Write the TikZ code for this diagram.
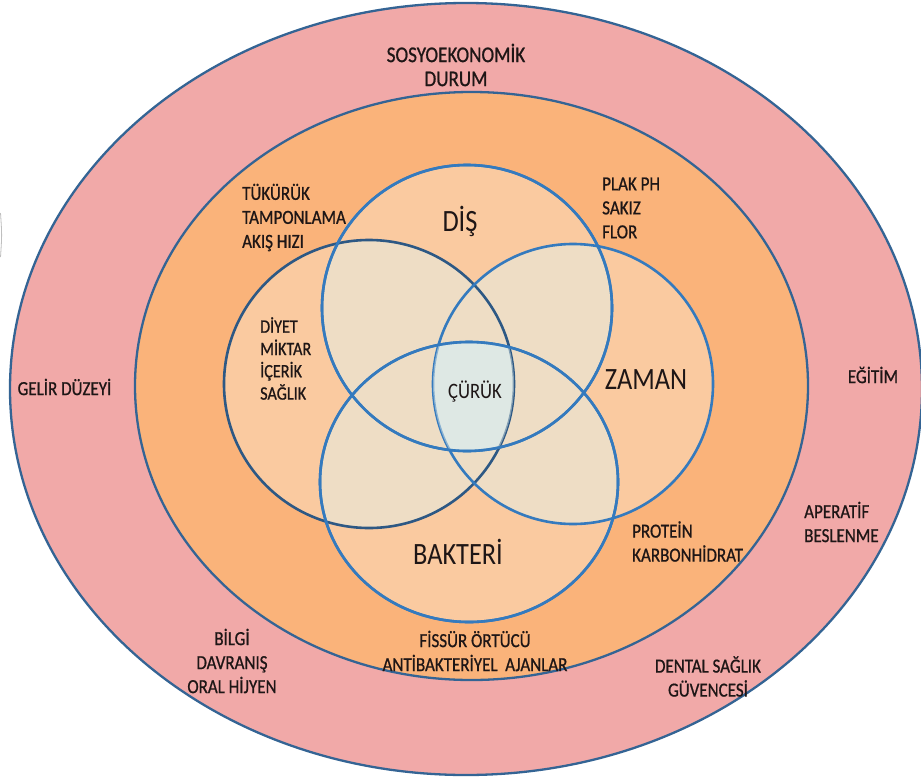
\documentclass[tikz,border=0pt]{standalone}
\usepackage{fontspec}
\setmainfont[FakeStretch=0.85]{Carlito}
\newfontfamily\lblfont[FakeStretch=0.85,FakeBold=0.8]{Carlito}
\definecolor{pinkc}{RGB}{241,169,168}
\definecolor{orangec}{RGB}{250,179,122}
\definecolor{peachc}{RGB}{250,202,160}
\definecolor{beigec}{RGB}{238,221,197}
\definecolor{centerc}{RGB}{222,232,228}
\definecolor{ringline}{RGB}{52,100,148}
\definecolor{vennline}{RGB}{52,122,190}
\definecolor{vennleft}{RGB}{45,88,132}
\definecolor{txtc}{RGB}{30,22,22}
\def\cL{(369,384) ellipse [x radius=145pt, y radius=144pt]}
\def\cT{(467,308) ellipse [x radius=145pt, y radius=143pt]}
\def\cR{(573,384) ellipse [x radius=140pt, y radius=140pt]}
\def\cB{(469,482) ellipse [x radius=149pt, y radius=140pt]}
\tikzset{
  ring/.style={draw=ringline, line width=2.3pt},
  vline/.style={line width=2.6pt},
  lbl/.style={text=txtc, inner sep=0pt, font=\lblfont\fontsize{20}{24}\selectfont},
  lbltop/.style={text=txtc, inner sep=0pt, font=\lblfont\fontsize{22.5}{24}\selectfont},
  lblsmall/.style={text=txtc, inner sep=0pt, font=\lblfont\fontsize{19}{22.3}\selectfont},
  midlbl/.style={text=txtc, inner sep=0pt, font=\fontsize{22}{26}\selectfont},
  biglbl/.style={text=txtc, inner sep=0pt, font=\fontsize{31}{36}\selectfont},
}
\begin{document}
\begin{tikzpicture}[x=1pt,y=-1pt]
\useasboundingbox (0,0) rectangle (921,782);
\fill[white] (0,0) rectangle (921,782);
% edge artifact
\draw[black!25, line width=0.8pt] (0.5,213) .. controls (2,235) .. (0.5,257);
% rings
\fill[pinkc] (466,389) ellipse [x radius=456pt, y radius=386pt];
\draw[ring] (466,389) ellipse [x radius=456pt, y radius=386pt];
\fill[orangec] (471.5,386) ellipse [x radius=336.5pt, y radius=294pt];
\draw[ring] (471.5,386) ellipse [x radius=336.5pt, y radius=294pt];
% venn fills
\fill[peachc] \cL;
\fill[peachc] \cT;
\fill[peachc] \cR;
\fill[peachc] \cB;
\begin{scope}
  \clip \cL;
  \fill[beigec] \cT;
  \fill[beigec] \cR;
  \fill[beigec] \cB;
\end{scope}
\begin{scope}
  \clip \cT;
  \fill[beigec] \cR;
  \fill[beigec] \cB;
\end{scope}
\begin{scope}
  \clip \cR;
  \fill[beigec] \cB;
\end{scope}
\begin{scope}
  \clip \cL; \clip \cT; \clip \cR;
  \fill[centerc] \cB;
\end{scope}
% venn borders
\draw[vline, draw=vennleft] \cL;
\draw[vline, draw=vennline] \cR;
\draw[vline, draw=vennline] \cT;
\draw[vline, draw=vennline] \cB;
\begin{scope}
  \clip \cL; \clip \cT; \clip \cR;
  \fill[centerc, opacity=0.5] \cB;
\end{scope}
\draw[vline, draw=vennline] \cT;
\draw[vline, draw=vennline] \cB;
% labels
\node[lbltop, align=center] (soc) at (456,65) {SOSYOEKONOMİK\\DURUM};
\node[lbl] (gelir) at (64.5,387) {GELİR DÜZEYİ};
\node[lbl] (egitim) at (873,375) {EĞİTİM};
\node[lbl, align=left, anchor=west] (tukuruk) at (242,217.5) {TÜKÜRÜK\\TAMPONLAMA\\AKIŞ HIZI};
\node[lblsmall, align=left, anchor=west] (diyet) at (260,358.5) {DİYET\\MİKTAR\\İÇERİK\\SAĞLIK};
\node[biglbl] (dis) at (460,221) {DİŞ};
\node[lbl, align=left, anchor=west] (plak) at (602,208) {PLAK PH\\SAKIZ\\FLOR};
\node[midlbl] (curuk) at (475,392) {ÇÜRÜK};
\node[biglbl] (zaman) at (646,380) {ZAMAN};
\node[biglbl] (bakteri) at (458,552) {BAKTERİ};
\node[lbl, align=left, anchor=west] (protein) at (632,541.5) {PROTEİN\\KARBONHİDRAT};
\node[lbl, align=center] (fissur) at (475,651) {FİSSÜR ÖRTÜCÜ\\ANTİBAKTERİYEL\ \ AJANLAR};
\node[lbl, align=left, anchor=west] (aperatif) at (804,522) {APERATİF\\BESLENME};
\node[lbl, align=center] (bilgi) at (232,661) {BİLGİ\\DAVRANIŞ\\ORAL HİJYEN};
\node[lbl, align=center] (dental) at (708,676.5) {DENTAL SAĞLIK\\GÜVENCESİ};
\end{tikzpicture}
\end{document}
